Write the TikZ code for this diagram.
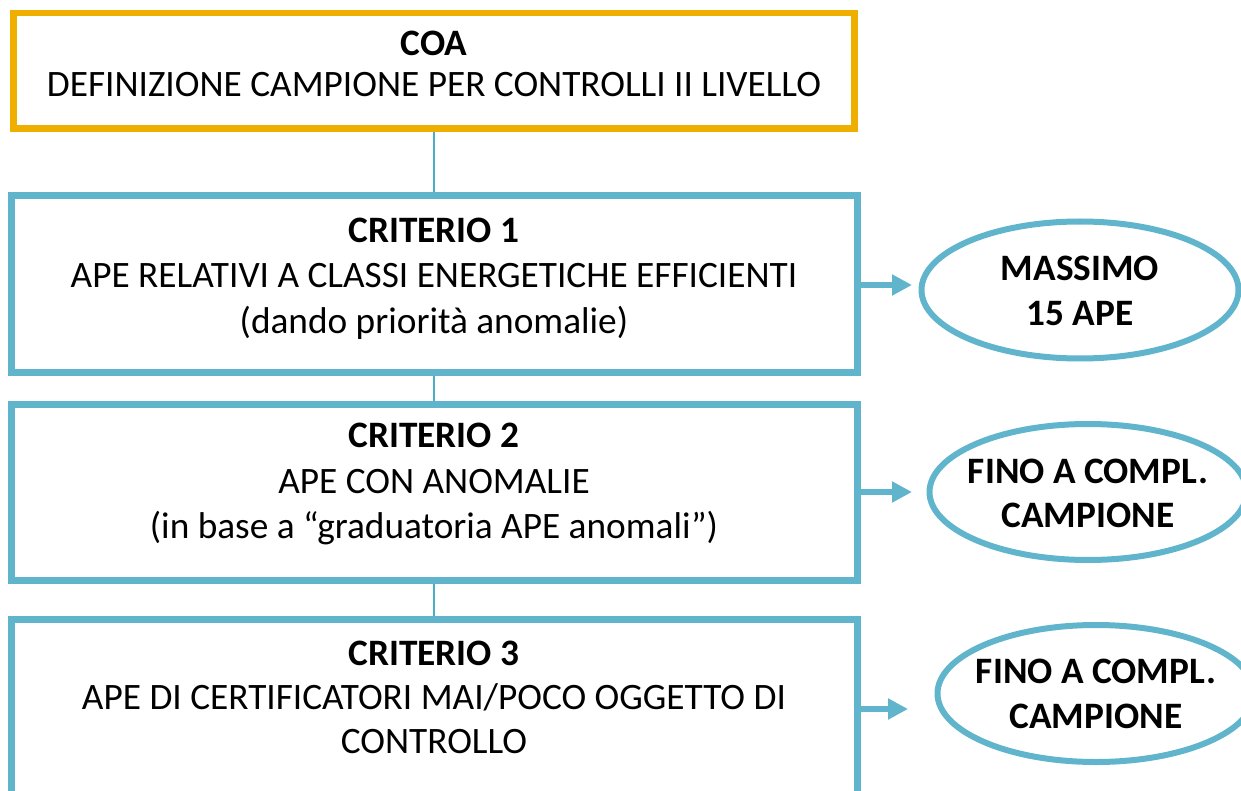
\documentclass[tikz,border=0pt]{standalone}
\usepackage{fontspec}
\setmainfont{Carlito}
\usetikzlibrary{shapes.geometric,arrows.meta}
\definecolor{gold}{HTML}{EFAF00}
\definecolor{aqua}{HTML}{60B5CC}
\definecolor{aquadark}{HTML}{4BACC6}
\begin{document}
\begin{tikzpicture}[x=1pt,y=-1pt,
  coabox/.style={draw=gold, line width=6.5pt, rectangle, minimum width=841pt, minimum height=115.5pt, inner sep=0pt},
  critbox/.style={draw=aqua, line width=7pt, rectangle, minimum width=846pt, inner sep=0pt},
  oval/.style={ellipse, draw=aqua, line width=6pt, inner sep=0pt},
  txt/.style={align=center, inner sep=0pt, anchor=base, font=\fontsize{37.3}{45.5}\selectfont},
  btxt/.style={align=center, inner sep=0pt, anchor=base, font=\bfseries\fontsize{37.3}{45.5}\selectfont},
  link/.style={draw=aquadark, line width=2pt},
  arr/.style={draw=aqua, line width=6pt, -{Triangle[length=20pt,width=20pt]}}]
\useasboundingbox (0,0) rectangle (1241,791);
\clip (0,0) rectangle (1241,791);
% boxes
\node[coabox] (coa) at (434,70.75) {};
\node[critbox, minimum height=176pt] (b1) at (434,284) {};
\node[critbox, minimum height=176pt] (b2) at (434,492) {};
\node[critbox, minimum height=211pt] (b3) at (434,724.5) {};
% texts (base anchor = baseline of the last line)
\node[txt, font=\fontsize{37.3}{41.5}\selectfont] (tcoa) at (434,97) {\textbf{COA}\\DEFINIZIONE CAMPIONE PER CONTROLLI II LIVELLO};
\node[txt] (t1) at (434,333.5) {\textbf{CRITERIO 1}\\APE RELATIVI A CLASSI ENERGETICHE EFFICIENTI\\(dando priorità anomalie)};
\node[txt] (t2) at (434,538.5) {\textbf{CRITERIO 2}\\APE CON ANOMALIE\\(in base a “graduatoria APE anomali”)};
\node[txt, font=\fontsize{37.3}{44}\selectfont] (t3) at (434,753.3) {\textbf{CRITERIO 3}\\APE DI CERTIFICATORI MAI/POCO OGGETTO DI\\CONTROLLO};
% ellipses
\node[oval, minimum width=317pt, minimum height=137pt] (e1) at (1080,290) {};
\node[oval, minimum width=317pt, minimum height=136pt] (e2) at (1088,492) {};
\node[oval, minimum width=317pt, minimum height=137pt] (e3) at (1096,693.5) {};
\node[btxt] (te1) at (1080,326) {MASSIMO\\15 APE};
\node[btxt, font=\bfseries\fontsize{37.3}{44}\selectfont] (te2) at (1088,527.3) {FINO A COMPL.\\CAMPIONE};
\node[btxt, font=\bfseries\fontsize{37.3}{45}\selectfont] (te3) at (1096,728.3) {FINO A COMPL.\\CAMPIONE};
% vertical links
\draw[link] (coa) -- (b1);
\draw[link] (b1) -- (b2);
\draw[link] (b2) -- (b3);
% arrows
\coordinate (a1) at (912,285);
\coordinate (a2) at (912,492);
\coordinate (a3) at (908,709);
\draw[arr] (b1.east |- a1) -- (a1);
\draw[arr] (b2.east |- a2) -- (a2);
\draw[arr] (b3.east |- a3) -- (a3);
\end{tikzpicture}
\end{document}
